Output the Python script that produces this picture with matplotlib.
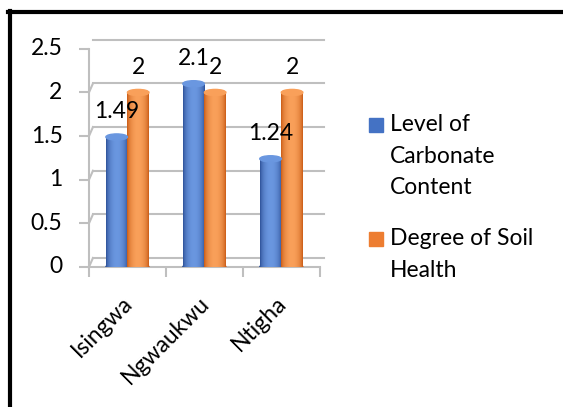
import matplotlib.pyplot as plt
import matplotlib.transforms as mtransforms
from matplotlib.colors import to_rgb
from matplotlib.patches import Ellipse, Rectangle
from matplotlib.lines import Line2D
import numpy as np

plt.rcParams['font.family'] = ['Lato', 'DejaVu Sans']

sites = ["Isingwa", "Ngwaukwu", "Ntigha"]
carbonate = [1.49, 2.1, 1.24]
soil_health = [2, 2, 2]
series_names = ["Level of\nCarbonate\nContent", "Degree of Soil\nHealth"]
series_colors = ["#4472C4", "#ED7D31"]

font_size = 16.5
grid_c = "#BFBFBF"
# (dark edge, light centre) for each cylinder gradient
blue = ("#2C4F96", "#6A97E0")
orange = ("#C85A14", "#F9A05A")

W, H = 563, 407
fig = plt.figure(figsize=(W / 100, H / 100), dpi=100)
ax = fig.add_axes([0.158, 0.344, 0.410, 0.536])
ax.set_xlim(0, 3)
ax.set_ylim(0, 2.5)
ax.axis("off")

# back wall gridlines, shifted up/right for the 3d look
back = ax.transData + mtransforms.ScaledTranslation(4 / 100, 9 / 100, fig.dpi_scale_trans)
for v in np.arange(0, 2.51, 0.5):
    ax.plot([0, 3], [v, v], color=grid_c, lw=1.5, transform=back, clip_on=False, zorder=1)
    # short diagonal joining front tick to back wall
    p0 = ax.transData.transform((0, v))
    p1 = back.transform((0, v))
    ax.add_line(Line2D([p0[0], p1[0]], [p0[1], p1[1]], color=grid_c, lw=1.5,
                       transform=None, zorder=1))
    ax.plot([0], [v], marker=0, color=grid_c, ms=7, mew=1.5, clip_on=False)
    ax.annotate(f"{v:g}", (0, v), xytext=(-19, 0), textcoords="offset points",
                ha="right", va="center", fontsize=font_size)

# front axis and floor
ax.plot([0, 0], [0, 2.5], color=grid_c, lw=1.5, clip_on=False, zorder=1)
ax.plot([0, 3], [0, 0], color=grid_c, lw=1.5, clip_on=False, zorder=1)
for i in range(4):
    ax.plot([i], [0], marker=3, color=grid_c, ms=7, mew=1.5, clip_on=False)

# horizontal gradient used for the cylinders
xs = np.linspace(-1, 1, 64)
shade = 1 - xs ** 2
ell_h = 0.07
bar_w = 0.28


def cylinder(x0, h, colors):
    dark = np.array(to_rgb(colors[0]))
    light = np.array(to_rgb(colors[1]))
    img = dark + (light - dark) * shade[:, None] ** 0.7
    img = img[None, :, :]
    rect = Rectangle((x0, 0), bar_w, h, transform=ax.transData)
    im = ax.imshow(img, extent=[x0, x0 + bar_w, 0, h], aspect="auto", zorder=3)
    im.set_clip_path(rect)
    bot = Ellipse((x0 + bar_w / 2, 0), bar_w, ell_h, color=colors[0], zorder=2.9)
    top = Ellipse((x0 + bar_w / 2, h), bar_w, ell_h, color=colors[1], zorder=3.1)
    ax.add_patch(bot)
    ax.add_patch(top)


for i in range(len(sites)):
    cylinder(i + 0.22, carbonate[i], blue)
    cylinder(i + 0.50, soil_health[i], orange)
    ax.annotate(f"{carbonate[i]:g}", (i + 0.36, carbonate[i]), xytext=(0, 18),
                textcoords="offset points", ha="center", va="center", fontsize=font_size, zorder=5)
    ax.annotate(f"{soil_health[i]:g}", (i + 0.64, soil_health[i]), xytext=(0, 18),
                textcoords="offset points", ha="center", va="center", fontsize=font_size, zorder=5)
    ax.annotate(sites[i], (i + 0.5, 0), xytext=(1, -24), textcoords="offset points",
                rotation=45, rotation_mode="anchor", ha="right", va="center", fontsize=font_size)

ax.set_xlim(0, 3)
ax.set_ylim(0, 2.5)

# legend: colour squares with wrapped labels
for name, color, y in zip(series_names, series_colors, [118, 232]):
    fig.add_artist(Rectangle((369 / W, 1 - (y + 14) / H), 14 / W, 14 / H,
                             transform=fig.transFigure, color=color))
    fig.text(390 / W, 1 - (y - 4) / H, name, ha="left", va="top",
             fontsize=font_size, linespacing=1.62)

# frame lines along the top and left edges
fig.add_artist(Line2D([8 / W, 1], [1 - 12 / H, 1 - 12 / H], color="black", lw=3))
fig.add_artist(Line2D([9.5 / W, 9.5 / W], [0, 1 - 10.5 / H], color="black", lw=3))

fig.savefig("out.png", dpi=100)
